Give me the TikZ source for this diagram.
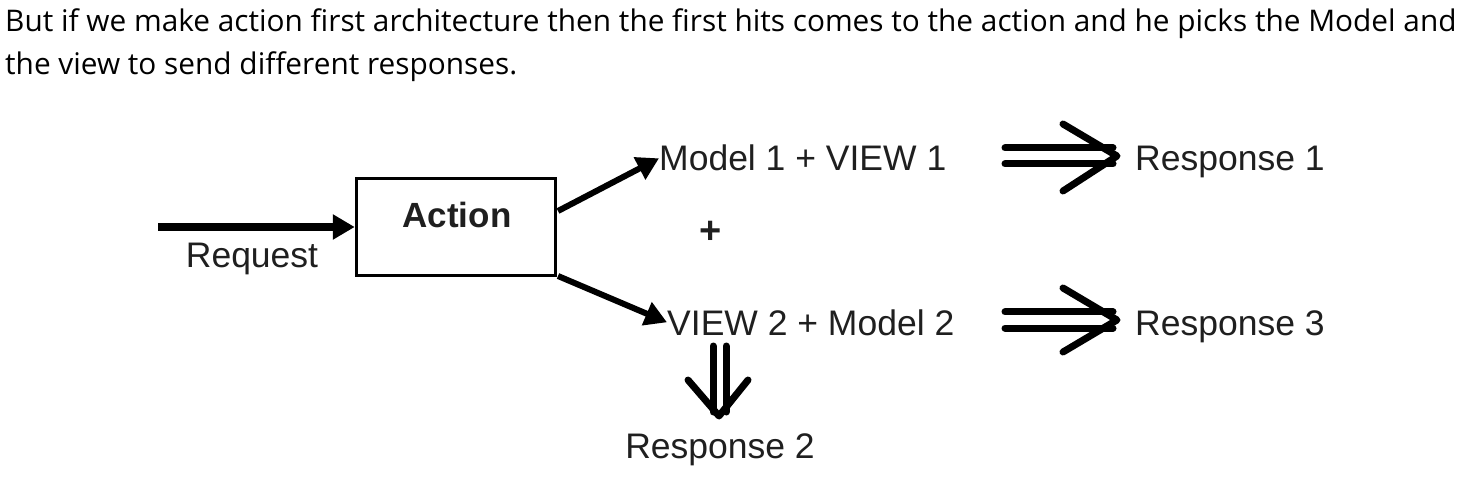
\documentclass[tikz,border=0pt]{standalone}
\usepackage{fontspec}
\setmainfont{Open Sans}
\newfontfamily\diag{Liberation Sans}
\usetikzlibrary{arrows.meta,calc}
\begin{document}
\begin{tikzpicture}[x=1pt,y=-1pt,
  bodytext/.style={anchor=base west,inner sep=0pt,font=\fontsize{29.8}{34}\selectfont},
  lbl/.style={inner sep=0pt,text=black!88,font=\diag\fontsize{35.5}{40}\selectfont},
  box/.style={draw,line width=3.5pt,minimum width=199pt,minimum height=97pt,inner sep=0pt},
  thickarrow/.style={line width=6pt,-{Triangle[length=22pt,width=24pt]}},
  dblline/.style={line width=7pt,line cap=round},
  chevron/.style={line width=7pt,line cap=round,line join=round}]
\useasboundingbox (0,0) rectangle (1475,486);
\node[bodytext] (t1) at (5,32) {But if we make action first architecture then the first hits comes to the action and he picks the Model and};
\node[bodytext] (t2) at (5,75) {the view to send different responses.};

\node[box] (action) at (456,227) {};
\node[lbl,anchor=base,font=\diag\bfseries\fontsize{35}{40}\selectfont] (actiontxt) at (457,228) {Action};
\coordinate (reqstart) at (158,227);
\node[lbl,anchor=base] (request) at (252,268) {Request};
\node[lbl,anchor=base west] (m1) at (659,171) {Model 1 + VIEW 1};
\node[lbl,font=\diag\bfseries\fontsize{38}{40}\selectfont] (plus) at (711,232) {+};
\node[lbl,anchor=base west] (v2) at (667,335) {VIEW 2 + Model 2};
\node[lbl,anchor=base west] (r1) at (1135,171) {Response 1};
\node[lbl,anchor=base west] (r3) at (1135,335) {Response 3};
\node[lbl,anchor=base] (r2) at (720,458) {Response 2};

% Request arrow
\draw[thickarrow,line width=8pt] (reqstart) -- (action.west);
% Action to branches
\draw[thickarrow] (558,211) -- (m1.west);
\draw[thickarrow] (558,276) -- (v2.west);

% double arrow m1 -> r1
\draw[dblline] (1005,148) -- (1113,148);
\draw[dblline] (1005,164) -- (1113,164);
\draw[chevron] (1063,124) -- (1117,156) -- (1063,191);
% double arrow v2 -> r3
\draw[dblline] (1005,312) -- (1113,312);
\draw[dblline] (1005,328) -- (1113,328);
\draw[chevron] (1063,288) -- (1117,320) -- (1063,352);
% double arrow v2 -> r2
\draw[dblline] (713,346) -- (713,412);
\draw[dblline] (726,346) -- (726,412);
\draw[chevron] (688,380) -- (719,416) -- (748,380);
\end{tikzpicture}
\end{document}
